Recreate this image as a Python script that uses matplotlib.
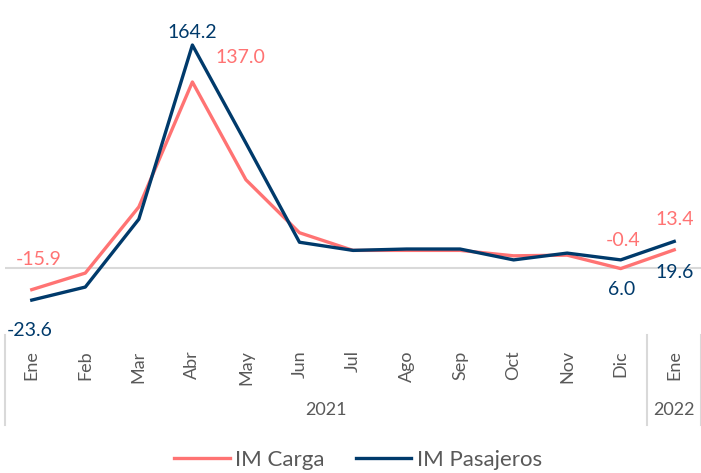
import matplotlib
matplotlib.use('Agg')
import matplotlib.pyplot as plt
import matplotlib.transforms as mtransforms

plt.rcParams['font.family'] = ['Lato', 'DejaVu Sans']

# data
months = ['Ene', 'Feb', 'Mar', 'Abr', 'May', 'Jun', 'Jul', 'Ago', 'Sep', 'Oct', 'Nov', 'Dic', 'Ene']
years = ['2021', '2022']
year_spans = [(0, 11), (12, 12)]
carga = [-15.9, -3.7, 45.0, 137.0, 65.0, 26.0, 13.0, 13.0, 13.0, 9.0, 9.5, -0.4, 13.4]
pasajeros = [-23.6, -14.0, 36.0, 164.2, 92.0, 19.0, 13.0, 14.0, 14.0, 6.0, 11.0, 6.0, 19.6]

pink = '#FF7373'
navy = '#003A6B'
grey = '#D9D9D9'
txt = '#595959'

fig = plt.figure(figsize=(7.01, 4.73), dpi=100)
W, H = 701, 473
ax = fig.add_axes([5 / W, 1 - 335 / H, 696 / W, 325 / H])

x = list(range(len(months)))
ax.axhline(0, color=grey, lw=1.5, zorder=1)
ax.plot(x, carga, color=pink, lw=2.4, label='IM Carga', zorder=3)
ax.plot(x, pasajeros, color=navy, lw=2.4, label='IM Pasajeros', zorder=4)

ax.set_xlim(-0.5, len(months) - 0.5)
ax.set_ylim(-49.3, 190)
for s in ax.spines.values():
    s.set_visible(False)
ax.set_yticks([])
ax.set_xticks(x)
ax.set_xticklabels(months, rotation=90, fontsize=13, color=txt)
ax.tick_params(axis='x', length=0, pad=11)

# value labels (offsets in pixels)
labels = [
    (0, carga[0], '-15.9', pink, (7, 30)),
    (0, pasajeros[0], '-23.6', navy, (-2, -30)),
    (3, pasajeros[3], '164.2', navy, (0, 13)),
    (3, carga[3], '137.0', pink, (48, 24)),
    (11, carga[11], '-0.4', pink, (2, 28)),
    (11, pasajeros[11], '6.0', navy, (1, -30)),
    (12, carga[12], '13.4', pink, (0, 30)),
    (12, pasajeros[12], '19.6', navy, (0, -31)),
]
for xi, yi, s, c, off in labels:
    ax.annotate(s, (xi, yi), xytext=off, textcoords='offset pixels',
                ha='center', va='center', fontsize=14, color=c)

# category axis: separators and year labels
trans = mtransforms.blended_transform_factory(ax.transData, ax.transAxes)
for xs in [-0.5, 11.5, 12.5]:
    ax.plot([xs, xs], [0, -0.277], transform=trans, color=grey, lw=1.5, clip_on=False)
for yr, (a, b) in zip(years, year_spans):
    ax.text((a + b) / 2, -0.231, yr, transform=trans, ha='center', va='center',
            fontsize=13, color=txt)

fig.legend(loc='center', bbox_to_anchor=(358 / W, 1 - 460 / H), ncol=2, frameon=False,
           fontsize=16, handlelength=2.5, handletextpad=0.25, columnspacing=1.4,
           labelcolor=txt)

fig.savefig('out.png', dpi=100)
